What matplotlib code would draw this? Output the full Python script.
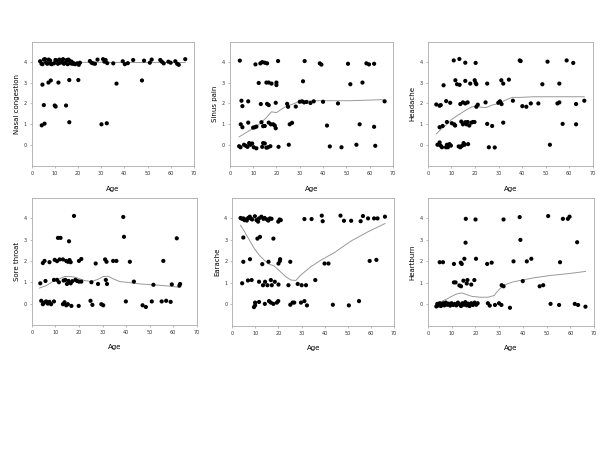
import numpy as np
import matplotlib
matplotlib.use("Agg")
import matplotlib.pyplot as plt

# ---- Nasal congestion ----
nasal_age = [3.6, 4.2, 4.6, 5.2, 5.7, 6.2, 6.7, 7.3, 7.9, 8.2, 8.6, 9.6, 10.2, 10.8, 11.3, 11.9,
             12.4, 12.9, 13.5, 13.9, 14.4, 15.1, 15.5, 15.8, 16.3, 16.8, 17.2, 17.6, 18.2, 18.7,
             19.7, 20.3, 20.8, 25.1, 25.8, 26.5, 27.3, 28.4, 30.8, 31.4, 31.9, 32.6, 35.2, 39.3,
             40.2, 41.5, 43.8, 48.5, 51.0, 51.8, 55.5, 56.2, 57.0, 59.0, 60.0, 62.0, 62.8, 63.5,
             66.3,
             4.6, 7.2, 8.2, 11.5, 16.2, 20.1, 36.6, 47.6,
             5.2, 9.9, 10.3, 14.8,
             4.3, 5.5, 16.2, 30.1, 32.4]
nasal_score = [4.02, 3.9, 3.88, 4.1, 4.12, 3.95, 3.9, 4.1, 4.05, 3.9, 3.88, 3.92, 4.08, 4.05, 3.9, 4.1,
               3.95, 4.02, 4.12, 3.9, 3.95, 4.08, 3.88, 4.1, 4.05, 3.92, 4.0, 3.9, 3.92, 3.88,
               3.92, 3.85, 3.95, 4.03, 3.95, 3.92, 3.9, 4.1, 4.12, 4.0, 4.08, 3.93, 3.92, 4.02,
               3.88, 3.93, 4.08, 4.05, 3.95, 4.1, 4.08, 4.0, 3.92, 4.0, 3.95, 4.02, 3.9, 3.85,
               4.12,
               2.9, 3.0, 3.1, 3.0, 3.12, 3.12, 2.95, 3.1,
               1.92, 1.9, 1.85, 1.9,
               0.95, 1.03, 1.1, 1.0, 1.05]
nasal_fit_x = [3.6, 10, 20, 30, 40, 50, 60, 66.3]
nasal_fit_y = [3.97, 3.98, 3.97, 3.97, 3.96, 3.96, 3.96, 3.96]

# ---- Sinus pain ----
sinus_age = [4.3, 11.0, 13.1, 13.9, 15.0, 16.0, 20.7, 32.1, 38.6, 39.3, 50.7, 58.6, 59.7, 61.9,
             12.4, 15.7, 16.7, 17.9, 20.0, 20.0, 31.4, 51.7, 56.9,
             5.0, 5.4, 7.9, 13.3, 16.0, 16.7, 19.7, 24.6, 25.0, 28.3, 30.0, 31.0, 31.9, 32.9,
             34.6, 36.0, 40.0, 46.4, 66.4,
             4.7, 5.4, 7.9, 10.0, 10.7, 11.4, 13.6, 14.3, 15.0, 16.7, 17.6, 18.6, 19.3, 19.7,
             25.7, 26.7, 41.7, 55.7, 61.9,
             4.0, 4.6, 6.1, 6.9, 7.6, 8.3, 8.9, 9.6, 10.3, 11.4, 14.3, 15.0, 13.9, 15.7, 16.4,
             17.4, 20.9, 25.3, 42.9, 47.9, 54.3, 62.4]
sinus_score = [4.05, 3.87, 3.92, 3.98, 3.95, 3.92, 4.03, 4.03, 3.92, 3.86, 3.9, 3.92, 3.87, 3.9,
               2.98, 3.0, 3.0, 2.95, 3.0, 2.88, 3.06, 2.92, 3.0,
               2.13, 1.87, 2.1, 1.97, 1.98, 1.92, 2.03, 1.98, 1.84, 1.85, 2.08, 2.1, 2.05, 2.07,
               2.02, 2.1, 2.08, 2.0, 2.1,
               1.0, 0.86, 1.08, 0.84, 0.86, 0.89, 1.1, 0.91, 0.92, 1.08, 1.0, 1.0, 0.94, 0.81,
               1.0, 1.07, 0.94, 1.0, 0.88,
               -0.05, -0.1, 0.02, -0.03, -0.08, 0.1, 0.02, 0.08, -0.1, -0.15, 0.1, 0.08, -0.08,
               -0.12, -0.1, -0.05, -0.08, 0.02, -0.06, -0.1, 0.02, -0.03]
sinus_fit_x = [4.0, 6.4, 10.0, 12.9, 15.7, 17.9, 20.0, 22.0, 24.3, 27.1, 30.0, 35.7, 41.4, 51.4,
               62.9, 65.0, 66.4]
sinus_fit_y = [0.4, 0.56, 0.8, 1.03, 1.32, 1.6, 1.56, 1.71, 1.87, 1.97, 2.1, 2.13, 2.13, 2.13,
               2.17, 2.18, 2.15]

# ---- Headache ----
head_age = [11.0, 13.4, 15.9, 20.3, 39.0, 39.4, 50.8, 58.9, 61.7,
            6.7, 11.7, 12.4, 13.5, 15.9, 18.0, 19.9, 20.3, 20.6, 25.2, 31.2, 32.0, 34.4, 48.6, 55.8,
            3.6, 5.0, 5.5, 7.8, 9.5, 13.8, 14.9, 15.9, 16.9, 20.6, 21.2, 24.5, 29.9, 30.6, 31.3,
            36.1, 40.1, 41.8, 43.7, 46.9, 55.0, 55.8, 62.9, 66.4,
            5.0, 6.3, 8.1, 10.2, 11.2, 11.6, 14.2, 14.9, 15.9, 16.4, 16.9, 17.6, 18.5, 19.2, 19.8,
            25.2, 27.3, 32.0, 57.2, 62.9,
            4.1, 5.0, 5.5, 6.0, 7.7, 8.1, 8.5, 9.2, 9.8, 13.1, 13.8, 14.5, 15.2, 15.6, 17.1,
            25.9, 28.4, 51.8]
head_score = [4.06, 4.13, 3.95, 3.94, 4.06, 4.03, 4.0, 4.06, 3.94,
              2.87, 3.11, 2.92, 2.89, 3.08, 2.95, 3.11, 2.98, 2.92, 2.95, 3.11, 2.95, 3.14, 2.92, 2.95,
              1.95, 1.89, 1.92, 2.11, 2.03, 1.97, 2.05, 2.0, 2.05, 1.84, 1.94, 2.05, 2.03, 2.1, 1.97,
              2.13, 1.87, 1.84, 2.0, 2.0, 2.0, 2.05, 1.97, 2.13,
              0.86, 0.92, 1.11, 1.05, 1.0, 0.94, 1.13, 1.0, 1.1, 1.0, 1.11, 0.94, 1.08, 1.11, 1.11,
              1.02, 0.92, 1.08, 1.02, 1.0,
              0.02, 0.13, -0.03, -0.1, -0.1, 0.02, -0.1, 0.05, -0.02, -0.06, -0.1, -0.03, 0.1, 0.02,
              0.05, -0.1, -0.11, 0.02]
head_fit_x = [3.6, 5.3, 8.1, 10.2, 12.4, 14.5, 16.6, 18.8, 20.9, 23.0, 24.9, 27.3, 30.2, 33.0,
              35.8, 39.4, 45.1, 52.2, 66.4]
head_fit_y = [0.54, 0.73, 1.0, 1.24, 1.41, 1.56, 1.71, 1.84, 1.87, 1.81, 1.81, 1.92, 2.0, 2.16,
              2.29, 2.29, 2.32, 2.32, 2.32]

# ---- Sore throat ----
throat_age = [17.9, 38.8,
              11.1, 12.2, 15.8, 39.1, 61.5,
              4.7, 5.4, 7.5, 9.7, 10.7, 11.8, 13.2, 14.6, 15.3, 16.0, 16.5, 20.0, 21.0, 27.1, 31.1,
              31.7, 34.5, 35.9, 41.6, 55.8,
              3.6, 5.8, 9.4, 10.7, 11.5, 13.5, 14.2, 14.9, 15.6, 16.5, 17.2, 18.5, 19.2, 20.0, 21.0,
              25.3, 28.1, 31.4, 31.9, 43.3, 51.6, 59.4, 62.6, 62.9,
              4.0, 4.7, 5.4, 6.1, 6.8, 7.5, 8.2, 9.4, 13.2, 13.9, 14.6, 15.3, 16.8, 19.9, 24.9, 25.7,
              29.5, 30.3, 39.9, 47.0, 48.4, 50.9, 55.1, 57.0, 58.9]
throat_score = [4.11, 4.06,
                3.08, 3.08, 2.92, 3.13, 3.06,
                1.9, 2.0, 1.94, 2.05, 1.99, 2.07, 2.07, 2.0, 1.96, 2.04, 1.94, 2.0, 2.09, 1.88, 2.07,
                1.96, 2.0, 2.0, 1.96, 2.0,
                0.95, 1.06, 1.11, 1.11, 1.0, 1.08, 1.11, 0.92, 1.06, 0.95, 1.05, 1.11, 1.06, 1.03, 1.03,
                1.0, 0.92, 1.11, 0.92, 1.03, 0.88, 0.9, 0.84, 0.92,
                0.13, -0.03, 0.05, 0.1, 0.0, 0.08, -0.03, 0.1, -0.03, 0.06, -0.08, -0.03, -0.11, -0.11,
                0.13, -0.06, -0.03, -0.08, 0.1, -0.08, -0.16, 0.1, 0.1, 0.13, 0.08]
throat_fit_x = [3.3, 6.1, 8.9, 11.8, 13.9, 16.0, 18.2, 20.3, 22.4, 25.3, 28.1, 30.3, 32.4, 34.5,
                37.4, 40.2, 45.9, 51.6, 57.2, 62.2]
throat_fit_y = [0.73, 0.84, 1.03, 1.16, 1.27, 1.27, 1.24, 1.16, 1.08, 1.03, 1.14, 1.27, 1.28, 1.16,
                1.03, 1.0, 0.92, 0.88, 0.83, 0.77]

# ---- Earache ----
ear_age = [3.6, 4.2, 4.8, 5.3, 5.8, 6.3, 6.9, 7.6, 8.0, 8.6, 9.8, 10.5, 11.2, 11.6, 12.6, 13.5,
           14.0, 15.0, 15.6, 16.3, 17.0, 19.9, 20.5, 21.0, 31.2, 34.3, 38.7, 39.1, 46.8, 48.3,
           51.4, 56.5, 55.5, 58.7, 61.3, 62.8, 66.0,
           4.8, 10.9, 12.0, 17.8,
           4.8, 7.7, 13.0, 15.7, 20.0, 20.6, 20.7, 25.1, 39.9, 41.6, 59.4, 62.3,
           4.3, 6.8, 8.4, 11.6, 13.3, 14.2, 15.2, 16.7, 17.1, 18.4, 20.0, 24.3, 28.3, 30.0, 31.9,
           35.9,
           9.9, 9.9, 9.4, 11.6, 14.1, 15.9, 16.7, 17.8, 19.3, 19.9, 25.1, 26.1, 26.8, 29.7, 31.2,
           32.3, 43.5, 50.4, 54.8]
ear_score = [4.02, 3.98, 4.0, 3.92, 3.95, 3.9, 4.02, 4.08, 4.0, 3.95, 4.1, 3.92, 3.85, 4.0, 4.08, 3.98,
             4.02, 3.95, 3.9, 4.0, 3.98, 3.85, 3.95, 3.92, 3.97, 3.97, 4.13, 3.87, 4.13, 3.89,
             3.89, 4.11, 3.87, 4.0, 4.0, 4.0, 4.08,
             3.11, 3.06, 3.14, 3.06,
             1.98, 2.1, 1.87, 1.98, 1.9, 2.02, 2.1, 1.98, 1.9, 1.9, 2.02, 2.07,
             0.98, 1.11, 1.13, 1.05, 0.89, 1.05, 0.89, 1.13, 0.89, 1.05, 0.92, 0.89, 0.95, 0.89, 0.89,
             1.13,
             0.08, -0.05, -0.13, 0.11, 0.02, 0.15, 0.08, 0.02, 0.08, 0.15, -0.02, 0.08, 0.08, 0.08, 0.15,
             -0.05, -0.02, -0.05, 0.15]
ear_fit_x = [3.6, 5.1, 7.2, 9.4, 11.6, 13.8, 15.9, 18.1, 20.3, 23.2, 25.4, 27.5, 29.7, 34.1, 38.4,
             44.2, 51.4, 58.7, 66.0]
ear_fit_y = [3.68, 3.43, 3.03, 2.62, 2.3, 2.06, 1.87, 1.79, 1.57, 1.28, 1.13, 1.11, 1.37, 1.76, 2.06,
             2.41, 2.95, 3.38, 3.76]

# ---- Heartburn ----
heart_age = [16.0, 20.1, 31.9, 38.7, 50.7, 56.9, 59.0, 59.7,
             15.9, 39.0, 62.9,
             5.0, 6.4, 11.0, 13.9, 14.3, 15.4, 20.3, 25.0, 26.9, 36.1, 41.7, 43.6, 55.7,
             11.0, 11.7, 13.3, 14.0, 15.0, 16.4, 16.7, 18.3, 19.6, 31.1, 31.9, 40.0, 47.1, 48.6,
             3.6, 4.0, 4.5, 5.0, 5.5, 6.0, 6.5, 7.0, 7.6, 8.2, 8.8, 9.4, 10.0, 10.7, 11.3, 12.0,
             12.7, 13.3, 14.0, 14.6, 15.2, 15.8, 16.4, 17.0, 17.6, 18.3, 19.0, 19.7, 20.4, 21.0,
             25.3, 26.1, 28.3, 30.0, 31.0, 34.6, 51.7, 55.3, 61.9, 63.3, 66.4]
heart_score = [3.98, 3.95, 3.95, 4.06, 4.11, 3.98, 3.98, 4.08,
               2.87, 3.0, 2.89,
               1.96, 1.96, 1.88, 1.94, 1.88, 2.12, 2.12, 1.88, 1.94, 2.0, 2.0, 2.12, 1.96,
               1.02, 1.02, 0.88, 0.84, 1.1, 0.97, 1.13, 0.92, 1.13, 0.89, 0.84, 1.08, 0.84, 0.89,
               -0.1, 0.02, -0.05, 0.05, -0.08, 0.0, 0.05, -0.05, 0.08, -0.02, 0.03, -0.06, 0.05, -0.03,
               0.02, -0.05, 0.08, 0.0, -0.08, 0.05, -0.02, 0.1, -0.05, 0.03, -0.08, 0.05, -0.03, 0.08,
               -0.02, 0.05,
               0.05, -0.06, -0.03, 0.05, -0.03, -0.16, 0.02, -0.03, 0.02, -0.03, -0.11]
heart_fit_x = [3.6, 5.7, 7.9, 10.0, 12.1, 14.3, 16.4, 18.6, 22.1, 25.3, 27.9, 30.0, 32.1, 35.7,
               39.3, 45.0, 52.1, 59.3, 66.4]
heart_fit_y = [0.05, 0.13, 0.24, 0.37, 0.48, 0.53, 0.45, 0.37, 0.33, 0.33, 0.41, 0.69, 0.89, 1.04,
               1.12, 1.24, 1.35, 1.43, 1.53]


def draw_panel(ax, ages, scores, fit_x, fit_y, label):
    ax.plot(fit_x, fit_y, color="#999999", lw=0.7, zorder=1)
    ax.scatter(ages, scores, s=9, color="black", edgecolors="none", zorder=2)
    ax.set_xlim(0, 70)
    ax.set_ylim(-1, 4.95)
    ax.set_xticks(range(0, 71, 10))
    ax.set_yticks(range(0, 5))
    ax.tick_params(labelsize=3.5, length=1.5, width=0.4, color="#888888",
                   labelcolor="#333333", pad=2)
    for sp in ax.spines.values():
        sp.set_color("#aaaaaa")
        sp.set_linewidth(0.6)
    ax.set_xlabel("Age", fontsize=5, labelpad=7)
    ax.set_ylabel(label, fontsize=5, labelpad=3)


fig = plt.figure(figsize=(6, 4.5), dpi=100)
# axes boxes [left, bottom, width, height]
boxes = [[0.053, 0.631, 0.270, 0.276],
         [0.383, 0.631, 0.272, 0.276],
         [0.713, 0.631, 0.275, 0.276],
         [0.053, 0.278, 0.275, 0.282],
         [0.387, 0.276, 0.270, 0.284],
         [0.713, 0.276, 0.277, 0.284]]
panels = [(nasal_age, nasal_score, nasal_fit_x, nasal_fit_y, "Nasal congestion"),
          (sinus_age, sinus_score, sinus_fit_x, sinus_fit_y, "Sinus pain"),
          (head_age, head_score, head_fit_x, head_fit_y, "Headache"),
          (throat_age, throat_score, throat_fit_x, throat_fit_y, "Sore throat"),
          (ear_age, ear_score, ear_fit_x, ear_fit_y, "Earache"),
          (heart_age, heart_score, heart_fit_x, heart_fit_y, "Heartburn")]

for box, p in zip(boxes, panels):
    ax = fig.add_axes(box)
    draw_panel(ax, *p)

fig.savefig("out.png", dpi=100)
